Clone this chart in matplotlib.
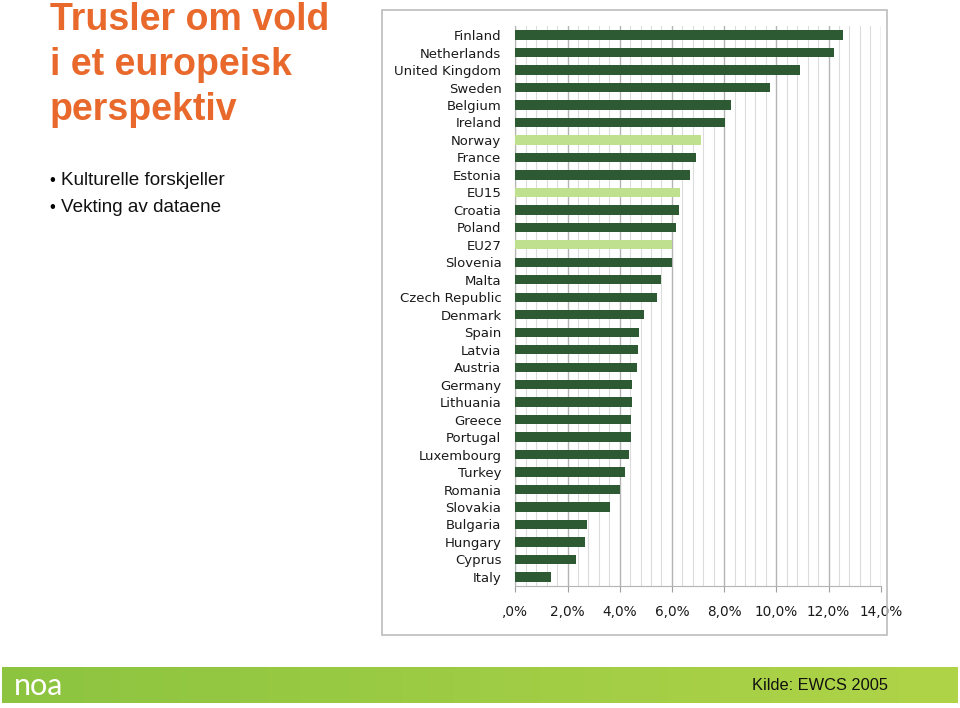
import numpy as np
import matplotlib.pyplot as plt
from matplotlib.patches import Rectangle
from matplotlib.ticker import MultipleLocator, FuncFormatter

countries = ['Finland', 'Netherlands', 'United Kingdom', 'Sweden', 'Belgium', 'Ireland',
             'Norway', 'France', 'Estonia', 'EU15', 'Croatia', 'Poland', 'EU27', 'Slovenia',
             'Malta', 'Czech Republic', 'Denmark', 'Spain', 'Latvia', 'Austria', 'Germany',
             'Lithuania', 'Greece', 'Portugal', 'Luxembourg', 'Turkey', 'Romania', 'Slovakia',
             'Bulgaria', 'Hungary', 'Cyprus', 'Italy']
values = [12.57, 12.22, 10.92, 9.76, 8.26, 8.02, 7.10, 6.92, 6.68, 6.31, 6.26, 6.16, 6.00,
          6.00, 5.58, 5.43, 4.94, 4.73, 4.69, 4.66, 4.48, 4.48, 4.42, 4.42, 4.36, 4.20,
          4.00, 3.63, 2.75, 2.66, 2.33, 1.38]
highlight = ['Norway', 'EU15', 'EU27']

title_lines = ['Trusler om vold', 'i et europeisk', 'perspektiv']
bullets = ['Kulturelle forskjeller', 'Vekting av dataene']

W, H = 960, 708
fig = plt.figure(figsize=(9.6, 7.08), dpi=100)

def fx(px):
    return px / W

def fy(py):
    return 1 - py / H

# chart frame
fig.patches.append(Rectangle((fx(382), fy(635)), fx(887) - fx(382), fy(10) - fy(635),
                             transform=fig.transFigure, fill=False, ec='#bcbcbc', lw=1.2))

ax = fig.add_axes([fx(515.3), fy(586), fx(880.7) - fx(515.3), fy(26) - fy(586)])
dark = '#2d5a33'
light = '#bfe08f'
colors = [light if c in highlight else dark for c in countries]
y = np.arange(len(countries))
ax.barh(y, values, height=0.53, color=colors, zorder=3)
ax.set_ylim(len(countries) - 0.48, -0.52)
ax.set_xlim(0, 14)
ax.set_yticks(y)
ax.set_yticklabels(countries, fontsize=9.5, color='#1a1a1a')
ax.xaxis.set_major_locator(MultipleLocator(2))
ax.xaxis.set_minor_locator(MultipleLocator(0.4))
ax.xaxis.set_major_formatter(FuncFormatter(
    lambda v, p: ',0%' if v == 0 else ('%.1f%%' % v).replace('.', ',')))
ax.tick_params(axis='y', length=0, pad=10)
ax.tick_params(axis='x', which='major', length=4, color='#a0a0a0', pad=10, labelsize=9.8,
               labelcolor='#1a1a1a')
ax.tick_params(axis='x', which='minor', length=0)
ax.grid(axis='x', which='major', color='#b4b4b4', lw=1.0, zorder=0)
ax.grid(axis='x', which='minor', color='#dcdcdc', lw=0.8, zorder=0)
for s in ['top', 'right']:
    ax.spines[s].set_visible(False)
ax.spines['left'].set_color('#b4b4b4')
ax.spines['bottom'].set_color('#b4b4b4')

# title and bullets
orange = '#e8692b'
for i, line in enumerate(title_lines):
    fig.text(fx(50), fy(30 + 45 * i), line, fontsize=27, fontweight='bold', color=orange,
             family='Liberation Sans', va='baseline')
for i, b in enumerate(bullets):
    fig.text(fx(49), fy(185 + 27 * i), '•', fontsize=12, family='Liberation Sans', va='baseline')
    fig.text(fx(61), fy(185 + 27 * i), b, fontsize=13.6, family='Liberation Sans',
             va='baseline', color='#111111')

# footer band
fax = fig.add_axes([fx(2), fy(703), fx(958) - fx(2), fy(667) - fy(703)])
grad = np.linspace(0, 1, 256)
c0 = np.array([0x8c, 0xc4, 0x40]) / 255
c1 = np.array([0xb0, 0xd4, 0x48]) / 255
img = (c0[None, :] * (1 - grad[:, None]) + c1[None, :] * grad[:, None])[None, :, :]
fax.imshow(img, aspect='auto', extent=[0, 1, 0, 1])
fax.axis('off')
fig.text(fx(14), fy(686), 'noa', fontsize=22, color='white', family='Lato', va='center')
fig.text(fx(752), fy(686), 'Kilde: EWCS 2005', fontsize=11.8, family='Liberation Sans',
         va='center', color='#111111')

fig.savefig('out.png', dpi=100)
